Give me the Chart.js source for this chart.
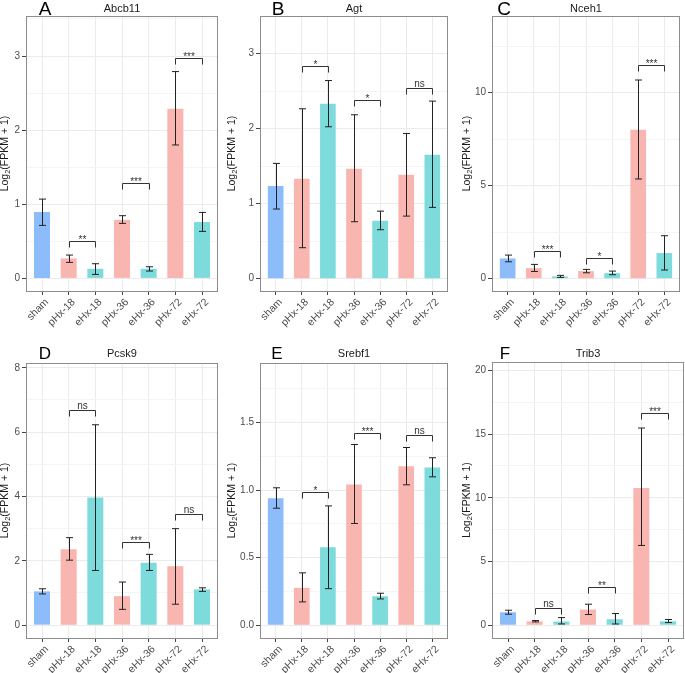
<!DOCTYPE html>
<html>
<head>
<meta charset="utf-8">
<script src="https://cdn.jsdelivr.net/npm/chart.js@4/dist/chart.umd.min.js"></script>
<style>
  body { margin: 0; background: #fff; }
  #wrap { position: relative; width: 685px; height: 673px; overflow: hidden; }
  canvas { position: absolute; }
</style>
</head>
<body>
<div id="wrap"></div>
<script>
// groups on the x axis
const groups = ['sham', 'pHx-18', 'eHx-18', 'pHx-36', 'eHx-36', 'pHx-72', 'eHx-72'];

// Abcb11
const abcb11Mean = [0.895, 0.27, 0.13, 0.79, 0.13, 2.29, 0.76];
const abcb11Low = [0.715, 0.216, 0.054, 0.742, 0.099, 1.80, 0.634];
const abcb11High = [1.07, 0.315, 0.198, 0.846, 0.157, 2.79, 0.89];
const abcb11Signif = [[1, 2, 0.51, '**'], [3, 4, 1.29, '***'], [5, 6, 2.98, '***']];
const abcb11Ticks = [0, 1, 2, 3];

// Agt
const agtMean = [1.234, 1.33, 2.33, 1.465, 0.772, 1.385, 1.65];
const agtLow = [0.928, 0.413, 2.024, 0.759, 0.652, 0.834, 0.95];
const agtHigh = [1.536, 2.264, 2.64, 2.184, 0.90, 1.935, 2.366];
const agtSignif = [[1, 2, 2.84, '*'], [3, 4, 2.38, '*'], [5, 6, 2.54, 'ns']];
const agtTicks = [0, 1, 2, 3];

// Nceh1
const nceh1Mean = [1.09, 0.57, 0.125, 0.41, 0.30, 8.01, 1.38];
const nceh1Low = [0.91, 0.39, 0.07, 0.32, 0.215, 5.36, 0.47];
const nceh1High = [1.27, 0.77, 0.18, 0.50, 0.41, 10.68, 2.31];
const nceh1Signif = [[1, 2, 1.47, '***'], [3, 4, 1.13, '*'], [5, 6, 11.5, '***']];
const nceh1Ticks = [0, 5, 10];

// Pcsk9
const pcsk9Mean = [1.05, 2.36, 3.97, 0.90, 1.94, 1.83, 1.11];
const pcsk9Low = [0.97, 2.02, 1.70, 0.49, 1.70, 0.65, 1.05];
const pcsk9High = [1.13, 2.72, 6.23, 1.34, 2.20, 3.00, 1.16];
const pcsk9Signif = [[1, 2, 6.69, 'ns'], [3, 4, 2.60, '***'], [5, 6, 3.45, 'ns']];
const pcsk9Ticks = [0, 2, 4, 6, 8];

// Srebf1
const srebf1Mean = [0.94, 0.277, 0.577, 1.041, 0.215, 1.177, 1.167];
const srebf1Low = [0.866, 0.173, 0.271, 0.753, 0.195, 1.039, 1.098];
const srebf1High = [1.017, 0.388, 0.883, 1.337, 0.237, 1.315, 1.239];
const srebf1Signif = [[1, 2, 0.987, '*'], [3, 4, 1.424, '***'], [5, 6, 1.411, 'ns']];
const srebf1Ticks = [0, 0.5, 1.0, 1.5];

// Trib3
const trib3Mean = [1.02, 0.31, 0.29, 1.23, 0.47, 10.77, 0.31];
const trib3Low = [0.865, 0.26, 0.10, 0.84, 0.10, 6.26, 0.21];
const trib3High = [1.18, 0.37, 0.60, 1.65, 0.92, 15.47, 0.45];
const trib3Signif = [[1, 2, 1.36, 'ns'], [3, 4, 3.01, '**'], [5, 6, 16.64, '***']];
const trib3Ticks = [0, 5, 10, 15, 20];

const barColors = ['#8cbdfa', '#f9b6b1', '#7edbdc', '#f9b6b1', '#7edbdc', '#f9b6b1', '#7edbdc'];
const FONT = '"Liberation Sans", Arial, sans-serif';
const wrap = document.getElementById('wrap');

function makePanel(p) {
    const [cx, cy, cw, ch] = p.canvas;
    const [l, t, r, b] = p.area;
    const canvas = document.createElement('canvas');
    canvas.width = cw;
    canvas.height = ch;
    canvas.style.left = cx + 'px';
    canvas.style.top = cy + 'px';
    wrap.appendChild(canvas);

    const step = (p.ticks[1] - p.ticks[0]) / 2;
    const allTicks = [];
    for (let v = p.ticks[0]; v <= p.yMax + 1e-9; v += step) allTicks.push(+v.toFixed(4));
    const isMajor = v => p.ticks.some(m => Math.abs(m - v) < 1e-6);

    const decor = {
        id: 'decor',
        afterDraw(chart) {
            const ctx = chart.ctx;
            const xs = chart.scales.x, ys = chart.scales.y;
            const a = chart.chartArea;
            ctx.save();

            // error bars
            ctx.strokeStyle = '#222';
            ctx.lineWidth = 1;
            p.mean.forEach((m, i) => {
                const x = Math.round(xs.getPixelForValue(i + 1)) + 0.5;
                const y1 = ys.getPixelForValue(p.low[i]);
                const y2 = ys.getPixelForValue(p.high[i]);
                ctx.beginPath();
                ctx.moveTo(x, y1); ctx.lineTo(x, y2);
                ctx.moveTo(x - 3.5, y1); ctx.lineTo(x + 3.5, y1);
                ctx.moveTo(x - 3.5, y2); ctx.lineTo(x + 3.5, y2);
                ctx.stroke();
            });

            // significance brackets
            ctx.strokeStyle = '#333';
            ctx.fillStyle = '#333';
            ctx.font = '10px ' + FONT;
            ctx.textAlign = 'center';
            ctx.textBaseline = 'alphabetic';
            p.signif.forEach(([i1, i2, h, lab]) => {
                const x1 = Math.round(xs.getPixelForValue(i1 + 1)) + 0.5;
                const x2 = Math.round(xs.getPixelForValue(i2 + 1)) + 0.5;
                const y = Math.round(ys.getPixelForValue(h)) + 0.5;
                ctx.beginPath();
                ctx.moveTo(x1, y + 6); ctx.lineTo(x1, y); ctx.lineTo(x2, y); ctx.lineTo(x2, y + 6);
                ctx.stroke();
                ctx.fillText(lab, (x1 + x2) / 2, lab === 'ns' ? y - 2 : y + 1);
            });

            // panel border
            ctx.strokeStyle = '#8c8c8c';
            ctx.strokeRect(Math.round(a.left) + 0.5, Math.round(a.top) + 0.5,
                Math.round(a.right - a.left) - 1, Math.round(a.bottom - a.top));

            // gene title
            ctx.fillStyle = '#1a1a1a';
            ctx.font = '11px ' + FONT;
            ctx.fillText(p.title, (a.left + a.right) / 2, p.titleY - cy);

            // panel letter
            ctx.fillStyle = '#000';
            ctx.font = p.letterSize + 'px ' + FONT;
            ctx.fillText(p.letter, p.letterX - cx, p.letterY - cy);

            // y axis title: Log2(FPKM + 1) with subscript
            ctx.translate(p.yTitleX - cx, (a.top + a.bottom) / 2);
            ctx.rotate(-Math.PI / 2);
            ctx.fillStyle = '#1a1a1a';
            ctx.textBaseline = 'middle';
            ctx.textAlign = 'left';
            const f1 = '10.5px ' + FONT, f2 = '7.5px ' + FONT;
            ctx.font = f1;
            const w1 = ctx.measureText('Log').width;
            const w3 = ctx.measureText('(FPKM + 1)').width;
            ctx.font = f2;
            const w2 = ctx.measureText('2').width;
            let x0 = -(w1 + w2 + w3) / 2;
            ctx.font = f1;
            ctx.fillText('Log', x0, 0);
            ctx.font = f2;
            ctx.fillText('2', x0 + w1, 3);
            ctx.font = f1;
            ctx.fillText('(FPKM + 1)', x0 + w1 + w2, 0);
            ctx.restore();
        }
    };

    new Chart(canvas, {
        type: 'bar',
        data: {
            datasets: [{
                data: p.mean.map((v, i) => ({ x: i + 1, y: v })),
                backgroundColor: barColors,
                borderWidth: 0,
                barPercentage: 0.6,
                categoryPercentage: 1
            }]
        },
        options: {
            responsive: false,
            animation: false,
            devicePixelRatio: 1,
            layout: { padding: { top: t - cy, right: cx + cw - r, left: 0, bottom: 0 } },
            plugins: { legend: { display: false }, tooltip: { enabled: false } },
            scales: {
                x: {
                    type: 'linear',
                    min: 0.4,
                    max: 7.6,
                    offset: false,
                    afterBuildTicks: s => { s.ticks = groups.map((g, i) => ({ value: i + 1 })); },
                    afterFit: s => { s.height = cy + ch - b; },
                    ticks: {
                        autoSkip: false,
                        minRotation: 45,
                        maxRotation: 45,
                        padding: 1,
                        labelOffset: 5,
                        color: '#4d4d4d',
                        font: { family: FONT, size: 10.5 },
                        callback: v => groups[v - 1]
                    },
                    grid: { offset: false, color: '#ebebeb', tickColor: '#444', tickLength: 4 },
                    border: { display: false }
                },
                y: {
                    min: p.yMin,
                    max: p.yMax,
                    afterBuildTicks: s => { s.ticks = allTicks.map(v => ({ value: v })); },
                    afterFit: s => { s.width = l - cx; },
                    ticks: {
                        padding: 2,
                        color: '#4d4d4d',
                        font: { family: FONT, size: 10 },
                        callback: v => isMajor(v) ? (p.decimals ? v.toFixed(p.decimals) : String(v)) : ''
                    },
                    grid: {
                        color: c => isMajor(c.tick.value) ? '#ebebeb' : '#f4f4f4',
                        tickColor: c => isMajor(c.tick.value) ? '#444' : 'rgba(0,0,0,0)',
                        tickLength: 4
                    },
                    border: { display: false }
                }
            }
        },
        plugins: [decor]
    });
}

makePanel({ canvas: [0, 0, 226, 335], area: [26, 16, 218, 291], yMin: -0.17, yMax: 3.54,
    mean: abcb11Mean, low: abcb11Low, high: abcb11High, signif: abcb11Signif, ticks: abcb11Ticks,
    title: 'Abcb11', titleY: 12, letter: 'A', letterX: 45, letterY: 15, letterSize: 19, yTitleX: 5 });
makePanel({ canvas: [226, 0, 230, 335], area: [260, 16, 448, 291], yMin: -0.164, yMax: 3.50,
    mean: agtMean, low: agtLow, high: agtHigh, signif: agtSignif, ticks: agtTicks,
    title: 'Agt', titleY: 12, letter: 'B', letterX: 278, letterY: 15, letterSize: 19, yTitleX: 232 });
makePanel({ canvas: [456, 0, 229, 335], area: [492, 16, 680, 291], yMin: -0.66, yMax: 14.12,
    mean: nceh1Mean, low: nceh1Low, high: nceh1High, signif: nceh1Signif, ticks: nceh1Ticks,
    title: 'Nceh1', titleY: 12, letter: 'C', letterX: 504, letterY: 15, letterSize: 19, yTitleX: 467 });
makePanel({ canvas: [0, 335, 226, 338], area: [26, 363, 218, 638], yMin: -0.40, yMax: 8.15,
    mean: pcsk9Mean, low: pcsk9Low, high: pcsk9High, signif: pcsk9Signif, ticks: pcsk9Ticks,
    title: 'Pcsk9', titleY: 357, letter: 'D', letterX: 45, letterY: 359, letterSize: 17, yTitleX: 5 });
makePanel({ canvas: [226, 335, 230, 338], area: [260, 363, 448, 638], yMin: -0.094, yMax: 1.94,
    mean: srebf1Mean, low: srebf1Low, high: srebf1High, signif: srebf1Signif, ticks: srebf1Ticks, decimals: 1,
    title: 'Srebf1', titleY: 357, letter: 'E', letterX: 277, letterY: 359, letterSize: 17, yTitleX: 232 });
makePanel({ canvas: [456, 335, 229, 338], area: [492, 362, 684, 638], yMin: -1.0, yMax: 20.65,
    mean: trib3Mean, low: trib3Low, high: trib3High, signif: trib3Signif, ticks: trib3Ticks,
    title: 'Trib3', titleY: 357, letter: 'F', letterX: 505, letterY: 359, letterSize: 17, yTitleX: 467 });
</script>
</body>
</html>
